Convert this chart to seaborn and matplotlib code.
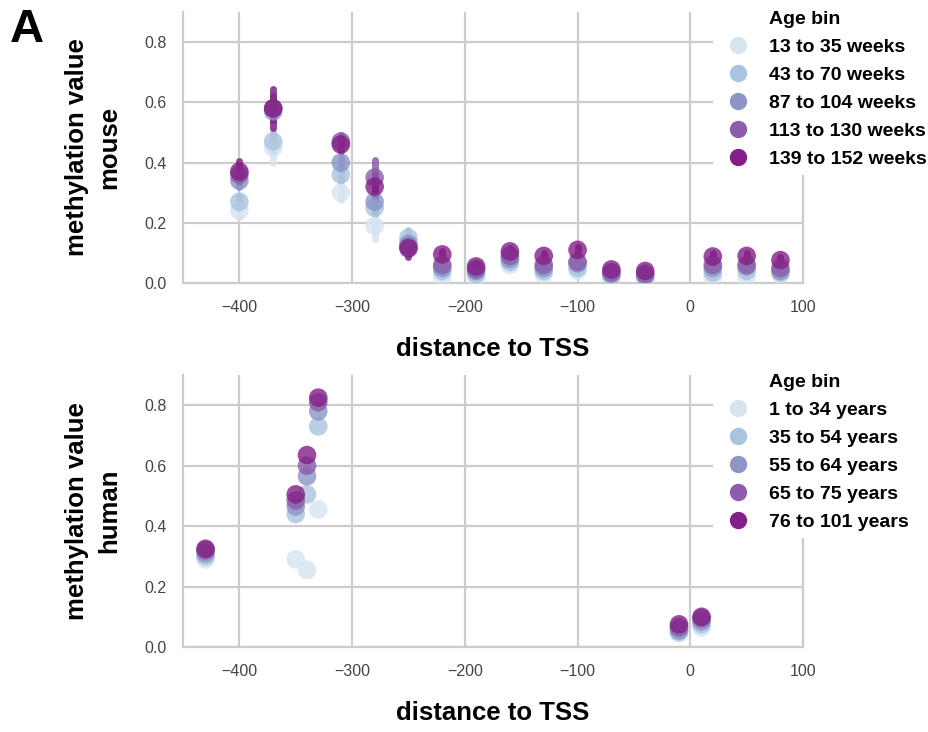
import numpy as np
import pandas as pd
import matplotlib
matplotlib.use("Agg")
import matplotlib.pyplot as plt
import seaborn as sns
from matplotlib.lines import Line2D

# ---------------- data ----------------
mouse_pos = [-400, -370, -310, -280, -250, -220, -190, -160, -130, -100, -70, -40, 20, 50, 80]
mouse_bins = ["13 to 35 weeks", "43 to 70 weeks", "87 to 104 weeks",
              "113 to 130 weeks", "139 to 152 weeks"]
mouse_w13_35 = [0.24, 0.45, 0.30, 0.19, 0.12, 0.02, 0.02, 0.06, 0.03, 0.04, 0.02, 0.015, 0.02, 0.02, 0.03]
mouse_w43_70 = [0.27, 0.47, 0.36, 0.25, 0.15, 0.04, 0.03, 0.07, 0.04, 0.05, 0.025, 0.02, 0.035, 0.04, 0.035]
mouse_w87_104 = [0.34, 0.57, 0.40, 0.27, 0.13, 0.05, 0.04, 0.08, 0.05, 0.065, 0.03, 0.025, 0.05, 0.055, 0.04]
mouse_w113_130 = [0.36, 0.58, 0.47, 0.35, 0.12, 0.06, 0.045, 0.09, 0.06, 0.07, 0.035, 0.03, 0.06, 0.06, 0.05]
mouse_w139_152 = [0.37, 0.58, 0.46, 0.32, 0.115, 0.095, 0.055, 0.105, 0.09, 0.11, 0.045, 0.04, 0.088, 0.09, 0.076]

# error bar half-widths
mouse_err_w13_35 = [0.02, 0.05, 0.025, 0.045, 0.01, 0.01, 0.01, 0.01, 0.01, 0.01, 0.01, 0.01, 0.01, 0.01, 0.01]
mouse_err_w43_70 = [0.02, 0.03, 0.02, 0.025, 0.025, 0.01, 0.01, 0.01, 0.01, 0.01, 0.01, 0.01, 0.01, 0.01, 0.01]
mouse_err_w87_104 = [0.02, 0.03, 0.02, 0.03, 0.02, 0.01, 0.01, 0.01, 0.01, 0.01, 0.01, 0.01, 0.01, 0.01, 0.01]
mouse_err_w113_130 = [0.025, 0.04, 0.02, 0.06, 0.02, 0.01, 0.01, 0.01, 0.01, 0.01, 0.01, 0.01, 0.01, 0.01, 0.01]
mouse_err_w139_152 = [0.035, 0.065, 0.02, 0.04, 0.03, 0.01, 0.01, 0.01, 0.01, 0.01, 0.01, 0.01, 0.01, 0.01, 0.01]

human_pos = [-430, -350, -340, -330, -10, 10]
human_bins = ["1 to 34 years", "35 to 54 years", "55 to 64 years",
              "65 to 75 years", "76 to 101 years"]
human_y1_34 = [0.29, 0.29, 0.255, 0.455, 0.045, 0.065]
human_y35_54 = [0.30, 0.44, 0.505, 0.73, 0.05, 0.075]
human_y55_64 = [0.31, 0.465, 0.565, 0.78, 0.055, 0.085]
human_y65_75 = [0.32, 0.485, 0.60, 0.81, 0.065, 0.095]
human_y76_101 = [0.325, 0.505, 0.635, 0.825, 0.075, 0.10]

x_ticks = [-400, -300, -200, -100, 0, 100]
y_ticks = [0.0, 0.2, 0.4, 0.6, 0.8]


def build(pos, bins, series, errs=None):
    rows = []
    for i, b in enumerate(bins):
        for j, p in enumerate(pos):
            rows.append({"pos": p, "val": series[i][j], "bin": b,
                         "err": (errs[i][j] if errs is not None else 0.0)})
    return pd.DataFrame(rows)


mouse_df = build(mouse_pos, mouse_bins,
                 [mouse_w13_35, mouse_w43_70, mouse_w87_104, mouse_w113_130, mouse_w139_152],
                 [mouse_err_w13_35, mouse_err_w43_70, mouse_err_w87_104, mouse_err_w113_130, mouse_err_w139_152])
human_df = build(human_pos, human_bins,
                 [human_y1_34, human_y35_54, human_y55_64, human_y65_75, human_y76_101])

# ---------------- style ----------------
sns.set_theme(style="whitegrid")
plt.rcParams['font.family'] = ['Liberation Sans', 'DejaVu Sans']
plt.rcParams['axes.edgecolor'] = '#cccccc'
plt.rcParams['grid.color'] = '#cccccc'
plt.rcParams['text.color'] = 'black'
plt.rcParams['axes.labelcolor'] = 'black'

pal = sns.color_palette("BuPu", 5)

W, H = 929, 732
fig = plt.figure(figsize=(W / 100, H / 100), dpi=100)
ax1 = fig.add_axes([183 / W, 1 - 283 / H, 620 / W, 271 / H])
ax2 = fig.add_axes([183 / W, 1 - 647 / H, 620 / W, 272 / H])


def panel(ax, df, bins, ylabel, leg_top_px):
    cmap = dict(zip(bins, pal))
    for b in bins:
        sub = df[(df["bin"] == b) & (df["err"] > 0)]
        if len(sub):
            lc = ax.vlines(sub["pos"], sub["val"] - sub["err"], sub["val"] + sub["err"],
                           colors=[cmap[b]], lw=5, alpha=0.85, zorder=2)
            lc.set_capstyle("round")
    sns.scatterplot(data=df, x="pos", y="val", hue="bin", hue_order=bins,
                    palette=pal, s=180, alpha=0.8, linewidth=0, ax=ax,
                    legend=False, zorder=3)
    ax.set_xlim(-450, 100)
    ax.set_ylim(0, 0.9)
    ax.set_xticks(x_ticks)
    ax.set_yticks(y_ticks)
    ax.set_yticklabels([f"{v:.1f}" for v in y_ticks])
    ax.grid(True, color='#cccccc', lw=1.6)
    for s in ["left", "bottom", "right"]:
        ax.spines[s].set_color('#cccccc')
        ax.spines[s].set_linewidth(1.6)
    ax.spines["top"].set_visible(False)
    ax.tick_params(axis='both', labelsize=11.5, colors='#444444', pad=12, length=0)
    ax.set_xlabel("distance to TSS", fontsize=18.5, fontweight='bold', labelpad=16)
    ax.set_ylabel(ylabel, fontsize=18.5, fontweight='bold', labelpad=16, linespacing=1.45)

    handles = [Line2D([], [], ls='', marker=None)]
    labels = ["Age bin"]
    for b, c in zip(bins, pal):
        handles.append(Line2D([], [], ls='', marker='o', markersize=12.5,
                              markerfacecolor=c, markeredgewidth=0))
        labels.append(b)
    leg = ax.legend(handles, labels, loc='upper left',
                    bbox_to_anchor=(703 / W, 1 - leg_top_px / H),
                    bbox_transform=fig.transFigure,
                    frameon=True, facecolor='white', edgecolor='none', framealpha=1,
                    prop=dict(weight='bold', size=14), labelspacing=0.53,
                    handletextpad=0.72, borderpad=0.35, handlelength=1.85)
    leg.set_zorder(10)


panel(ax1, mouse_df, mouse_bins, "methylation value\nmouse", -6)
panel(ax2, human_df, human_bins, "methylation value\nhuman", 357)

fig.text(10 / W, 1 - 8 / H, "A", fontsize=34, fontweight='bold', va='top', ha='left')

fig.savefig("out.png", dpi=100)
